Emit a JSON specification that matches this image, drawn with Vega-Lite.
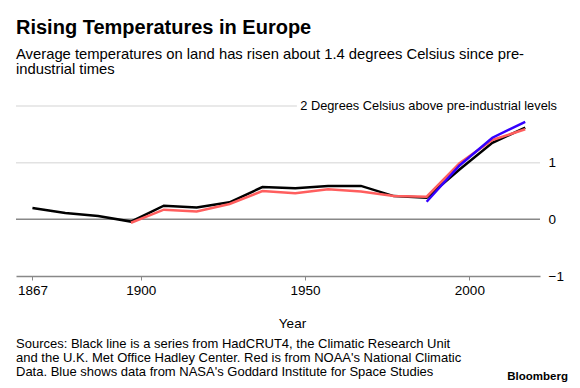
{
  "$schema": "https://vega.github.io/schema/vega-lite/v6.json",
  "width": 524,
  "height": 170,
  "autosize": "none",
  "padding": {"left": 16, "top": 106, "right": 40, "bottom": 112},
  "background": "white",
  "config": {"font": "Liberation Sans", "view": {"stroke": null}},
  "title": {
    "text": "Rising Temperatures in Europe",
    "subtitle": ["Average temperatures on land has risen about 1.4 degrees Celsius since pre-", "industrial times"],
    "anchor": "start",
    "frame": "group",
    "font": "Liberation Sans",
    "fontSize": 20,
    "fontWeight": "bold",
    "color": "#000000",
    "subtitleFont": "Liberation Sans",
    "subtitleFontSize": 14.8,
    "subtitleColor": "#000000",
    "subtitleLineHeight": 15.5,
    "subtitlePadding": 9,
    "offset": 23
  },
  "datasets": {
    "temps": [
      {"series": "HadCRUT4", "year": 1867, "temp": 0.20},
      {"series": "HadCRUT4", "year": 1877, "temp": 0.11},
      {"series": "HadCRUT4", "year": 1887, "temp": 0.06},
      {"series": "HadCRUT4", "year": 1897, "temp": -0.04},
      {"series": "HadCRUT4", "year": 1907, "temp": 0.24},
      {"series": "HadCRUT4", "year": 1917, "temp": 0.21},
      {"series": "HadCRUT4", "year": 1927, "temp": 0.30},
      {"series": "HadCRUT4", "year": 1937, "temp": 0.57},
      {"series": "HadCRUT4", "year": 1947, "temp": 0.55},
      {"series": "HadCRUT4", "year": 1957, "temp": 0.59},
      {"series": "HadCRUT4", "year": 1967, "temp": 0.59},
      {"series": "HadCRUT4", "year": 1977, "temp": 0.41},
      {"series": "HadCRUT4", "year": 1987, "temp": 0.38},
      {"series": "HadCRUT4", "year": 1997, "temp": 0.88},
      {"series": "HadCRUT4", "year": 2007, "temp": 1.35},
      {"series": "HadCRUT4", "year": 2017, "temp": 1.62},
      {"series": "NOAA", "year": 1897, "temp": -0.06},
      {"series": "NOAA", "year": 1907, "temp": 0.17},
      {"series": "NOAA", "year": 1917, "temp": 0.14},
      {"series": "NOAA", "year": 1927, "temp": 0.27},
      {"series": "NOAA", "year": 1937, "temp": 0.50},
      {"series": "NOAA", "year": 1947, "temp": 0.46},
      {"series": "NOAA", "year": 1957, "temp": 0.53},
      {"series": "NOAA", "year": 1967, "temp": 0.49},
      {"series": "NOAA", "year": 1977, "temp": 0.41},
      {"series": "NOAA", "year": 1987, "temp": 0.40},
      {"series": "NOAA", "year": 1997, "temp": 0.99},
      {"series": "NOAA", "year": 2007, "temp": 1.40},
      {"series": "NOAA", "year": 2017, "temp": 1.59},
      {"series": "NASA", "year": 1987, "temp": 0.31},
      {"series": "NASA", "year": 1997, "temp": 0.95},
      {"series": "NASA", "year": 2007, "temp": 1.44},
      {"series": "NASA", "year": 2017, "temp": 1.72}
    ],
    "one": [{"note": "annotation"}]
  },
  "layer": [
    {
      "data": {"name": "one"},
      "mark": {"type": "rule", "color": "#e2e2e2", "strokeWidth": 1.5},
      "encoding": {
        "x": {
          "datum": 1862,
          "type": "quantitative",
          "scale": {"domain": [1862, 2021.5], "nice": false, "zero": false},
          "axis": {
            "values": [1867, 1900, 1950, 2000],
            "format": "d",
            "grid": false,
            "labelFont": "Liberation Sans",
            "labelFontSize": 13.5,
            "labelColor": "#000000",
            "labelPadding": 3,
            "tickColor": "#888888",
            "tickSize": 4,
            "tickWidth": 1,
            "domainColor": "#888888",
            "domainWidth": 1.5,
            "title": "Year",
            "titleFont": "Liberation Sans",
            "titleFontSize": 13.5,
            "titleFontWeight": "normal",
            "titleColor": "#000000",
            "titleX": 276,
            "titleY": 51,
            "titleBaseline": "alphabetic"
          }
        },
        "x2": {"datum": 2021.5},
        "y": {
          "datum": 1,
          "type": "quantitative",
          "scale": {"domain": [-1, 2], "nice": false, "zero": false},
          "axis": {
            "orient": "right",
            "values": [-1, 0, 1],
            "format": "d",
            "grid": false,
            "domain": false,
            "ticks": false,
            "labelFont": "Liberation Sans",
            "labelFontSize": 13.5,
            "labelColor": "#000000",
            "labelAlign": "left",
            "labelBaseline": "middle",
            "labelPadding": 8,
            "title": null
          }
        }
      }
    },
    {
      "data": {"name": "one"},
      "mark": {"type": "rule", "color": "#e2e2e2", "strokeWidth": 1.5},
      "encoding": {"x": {"datum": 1862}, "x2": {"datum": 1947.5}, "y": {"datum": 2}}
    },
    {
      "data": {"name": "one"},
      "mark": {"type": "rule", "color": "#888888", "strokeWidth": 1.5},
      "encoding": {"x": {"datum": 1862}, "x2": {"datum": 2021.5}, "y": {"datum": 0}}
    },
    {
      "data": {"name": "one"},
      "mark": {"type": "text", "align": "right", "baseline": "middle", "dx": 17, "fontSize": 12.8, "font": "Liberation Sans", "color": "#000000", "text": "2 Degrees Celsius above pre-industrial levels"},
      "encoding": {"x": {"datum": 2021.5}, "y": {"datum": 2}}
    },
    {
      "data": {"name": "temps"},
      "transform": [{"filter": "datum.series === 'HadCRUT4'"}],
      "mark": {"type": "line", "color": "#000000", "strokeWidth": 2.5},
      "encoding": {"x": {"field": "year", "type": "quantitative"}, "y": {"field": "temp", "type": "quantitative"}}
    },
    {
      "data": {"name": "temps"},
      "transform": [{"filter": "datum.series === 'NOAA'"}],
      "mark": {"type": "line", "color": "#ff5e5e", "strokeWidth": 2.5},
      "encoding": {"x": {"field": "year", "type": "quantitative"}, "y": {"field": "temp", "type": "quantitative"}}
    },
    {
      "data": {"name": "temps"},
      "transform": [{"filter": "datum.series === 'NASA'"}],
      "mark": {"type": "line", "color": "#3300ff", "strokeWidth": 2.5},
      "encoding": {"x": {"field": "year", "type": "quantitative"}, "y": {"field": "temp", "type": "quantitative"}}
    },
    {
      "data": {"name": "one"},
      "mark": {"type": "text", "align": "left", "baseline": "alphabetic", "dy": 71.5, "fontSize": 13, "lineHeight": 14.3, "font": "Liberation Sans", "color": "#000000",
        "text": ["Sources: Black line is a series from HadCRUT4, the Climatic Research Unit", "and the U.K. Met Office Hadley Center. Red is from NOAA's National Climatic", "Data. Blue shows data from NASA's Goddard Institute for Space Studies"]},
      "encoding": {"x": {"datum": 1862}, "y": {"datum": -1}}
    },
    {
      "data": {"name": "one"},
      "mark": {"type": "text", "align": "right", "baseline": "alphabetic", "dx": 28, "dy": 104, "fontSize": 11.5, "fontWeight": "bold", "font": "Liberation Sans", "color": "#000000", "text": "Bloomberg"},
      "encoding": {"x": {"datum": 2021.5}, "y": {"datum": -1}}
    }
  ]
}
